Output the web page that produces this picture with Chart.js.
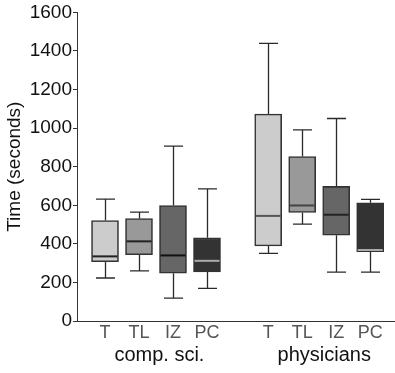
<!DOCTYPE html>
<html>
<head>
<meta charset="utf-8">
<script src="https://cdn.jsdelivr.net/npm/chart.js@4"></script>
<style>
  html, body { margin: 0; padding: 0; background: #fff; }
  #wrap { width: 395px; height: 373px; }
</style>
</head>
<body>
<div id="wrap"><canvas id="boxChart"></canvas></div>
<script>
// box plot values (seconds)
const conditions = ["T", "TL", "IZ", "PC", "T", "TL", "IZ", "PC"];
const xPos = [0, 1, 2, 3, 4.8, 5.8, 6.8, 7.8];
const groups = ["comp. sci.", "physicians"];
const groupPos = [1.6, 6.45];
const whiskerHigh = [632, 565, 907, 685, 1439, 991, 1050, 631];
const q3 = [521, 531, 599, 431, 1073, 853, 698, 613];
const median = [335, 413, 340, 312, 545, 599, 551, 368];
const q1 = [307, 344, 248, 254, 389, 563, 445, 359];
const whiskerLow = [223, 260, 119, 169, 351, 502, 253, 253];
const yTicks = [0, 200, 400, 600, 800, 1000, 1200, 1400, 1600];

const fills = ["#cccccc", "#999999", "#666666", "#333333", "#cccccc", "#999999", "#666666", "#333333"];
const medianColors = ["#222", "#222", "#111", "#aaa", "#555", "#444", "#222", "#aaa"];
const FONT = "'Liberation Sans', Arial, sans-serif";

// whiskers behind the boxes, medians on top
const boxWhiskers = {
  id: "boxWhiskers",
  beforeDatasetsDraw(chart) {
    const { ctx, scales: { x, y } } = chart;
    ctx.save();
    ctx.strokeStyle = "#2a2a2a";
    ctx.lineWidth = 1.3;
    xPos.forEach((v, i) => {
      const px = Math.round(x.getPixelForValue(v)) + 0.5;
      [[whiskerHigh[i], q3[i]], [whiskerLow[i], q1[i]]].forEach(([w, q]) => {
        const yw = y.getPixelForValue(w);
        ctx.beginPath();
        ctx.moveTo(px, yw);
        ctx.lineTo(px, y.getPixelForValue(q));
        ctx.moveTo(px - 9.5, yw);
        ctx.lineTo(px + 9.5, yw);
        ctx.stroke();
      });
    });
    ctx.restore();
  },
  afterDatasetsDraw(chart) {
    const { ctx, scales: { y } } = chart;
    const bars = chart.getDatasetMeta(0).data;
    ctx.save();
    ctx.lineWidth = 2;
    bars.forEach((bar, i) => {
      const ym = y.getPixelForValue(median[i]);
      ctx.strokeStyle = medianColors[i];
      ctx.beginPath();
      ctx.moveTo(bar.x - bar.width / 2 + 1, ym);
      ctx.lineTo(bar.x + bar.width / 2 - 1, ym);
      ctx.stroke();
    });
    ctx.restore();
  }
};

const ctx = document.getElementById("boxChart").getContext("2d");
new Chart(ctx, {
  type: "bar",
  data: {
    datasets: [{
      data: xPos.map((v, i) => ({ x: v, y: [q1[i], q3[i]] })),
      backgroundColor: fills,
      borderColor: "#333333",
      borderWidth: 1.6,
      borderSkipped: false,
      barThickness: 27
    }]
  },
  options: {
    responsive: true,
    maintainAspectRatio: false,
    animation: false,
    layout: { padding: { top: 7, right: 0, left: 0, bottom: 0 } },
    plugins: { legend: { display: false }, tooltip: { enabled: false } },
    scales: {
      x: {
        type: "linear",
        min: -0.824,
        max: 8.53,
        offset: false,
        grid: { display: false, drawTicks: false },
        border: { display: true, color: "#333", width: 1 },
        afterBuildTicks: (scale) => { scale.ticks = xPos.map(v => ({ value: v })); },
        afterFit: (scale) => { scale.height = 22; },
        ticks: {
          autoSkip: false,
          maxRotation: 0,
          padding: 1,
          color: "#555",
          font: { family: FONT, size: 18 },
          callback: (value, index) => conditions[index]
        }
      },
      x2: {
        type: "linear",
        position: "bottom",
        min: -0.824,
        max: 8.53,
        offset: false,
        grid: { display: false, drawTicks: false },
        border: { display: false },
        afterBuildTicks: (scale) => { scale.ticks = groupPos.map(v => ({ value: v })); },
        afterFit: (scale) => { scale.height = 30; },
        ticks: {
          autoSkip: false,
          maxRotation: 0,
          padding: 0,
          color: "#111",
          font: { family: FONT, size: 20 },
          callback: (value, index) => groups[index]
        }
      },
      y: {
        min: 0,
        max: 1600,
        afterBuildTicks: (scale) => { scale.ticks = yTicks.map(v => ({ value: v })); },
        afterFit: (scale) => { scale.width = 77; },
        grid: { drawOnChartArea: false, drawTicks: true, tickLength: 4, color: "#333" },
        border: { display: true, color: "#333", width: 1 },
        ticks: {
          padding: 1,
          color: "#111",
          font: { family: FONT, size: 19 },
          callback: (value) => String(value)
        },
        title: {
          display: true,
          text: "Time (seconds)",
          color: "#111",
          font: { family: FONT, size: 19 },
          padding: { top: 3, bottom: 0 }
        }
      }
    }
  },
  plugins: [boxWhiskers]
});
</script>
</body>
</html>
